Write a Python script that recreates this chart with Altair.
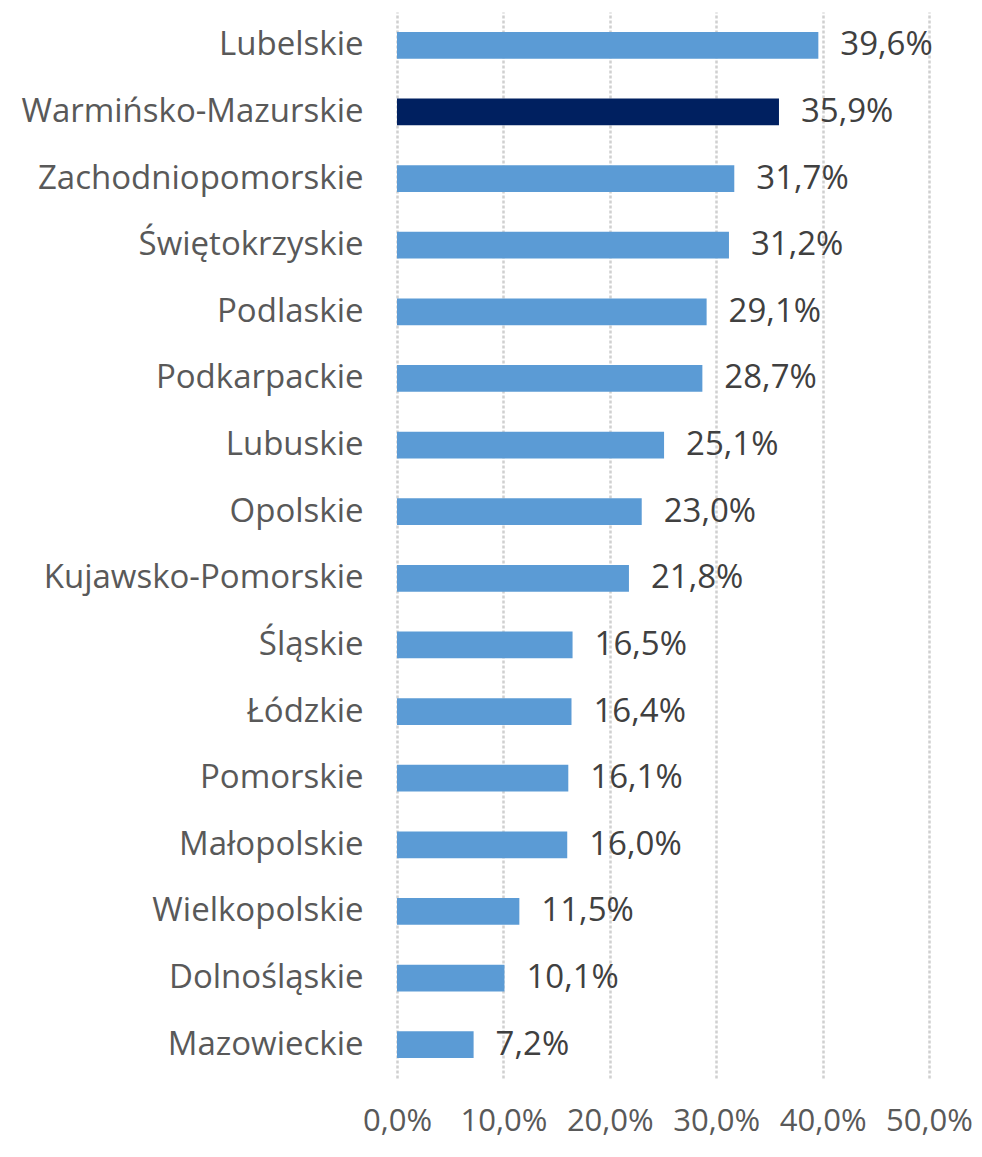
import altair as alt
import pandas as pd

regions = ["Lubelskie", "Warmińsko-Mazurskie", "Zachodniopomorskie", "Świętokrzyskie",
           "Podlaskie", "Podkarpackie", "Lubuskie", "Opolskie", "Kujawsko-Pomorskie",
           "Śląskie", "Łódzkie", "Pomorskie", "Małopolskie", "Wielkopolskie",
           "Dolnośląskie", "Mazowieckie"]
values = [39.6, 35.9, 31.7, 31.2, 29.1, 28.7, 25.1, 23.0, 21.8, 16.5, 16.4, 16.1, 16.0, 11.5, 10.1, 7.2]
highlight = ["Warmińsko-Mazurskie"]

df = pd.DataFrame({"region": regions, "value": values})
df["hl"] = df["region"].isin(highlight).map({True: "yes", False: "no"})
df["label"] = df["value"].map(lambda v: f"{v:.1f}".replace(".", ",") + "%")

FONT = "Open Sans"

x = alt.X("value:Q",
          scale=alt.Scale(domain=[0, 50], nice=False),
          axis=alt.Axis(values=[0, 10, 20, 30, 40, 50],
                        labelExpr="replace(format(datum.value, '.1f'), '.', ',') + '%'",
                        title=None, domain=False, ticks=False,
                        grid=True, gridDash=[3, 2], gridColor="#D0D0D0", gridWidth=2.5,
                        labelFontSize=31, labelColor="#595959", labelFont=FONT,
                        labelPadding=28, labelFlush=False, labelOverlap=False, labelLimit=0))
y = alt.Y("region:N", sort=regions,
          scale=alt.Scale(paddingInner=0.6, paddingOuter=0.3),
          axis=alt.Axis(title=None, domain=False, ticks=False,
                        labelFontSize=33, labelColor="#595959", labelFont=FONT,
                        labelPadding=34, labelLimit=0))

bars = alt.Chart(df).mark_bar().encode(
    x=x, y=y,
    color=alt.Color("hl:N", scale=alt.Scale(domain=["no", "yes"], range=["#5B9BD5", "#002060"]), legend=None),
)
text = alt.Chart(df).mark_text(align="left", dx=22, fontSize=33, font=FONT, color="#404040").encode(
    x="value:Q", y=alt.Y("region:N", sort=regions), text="label:N")

chart = (bars + text).properties(
    width=532, height=1066,
    autosize=alt.AutoSizeParams(type="none"),
    padding={"left": 389, "top": 4, "right": 45, "bottom": 66},
).configure_view(stroke=None)

chart.save("out.html", embed_options={"renderer": "svg", "actions": False})
